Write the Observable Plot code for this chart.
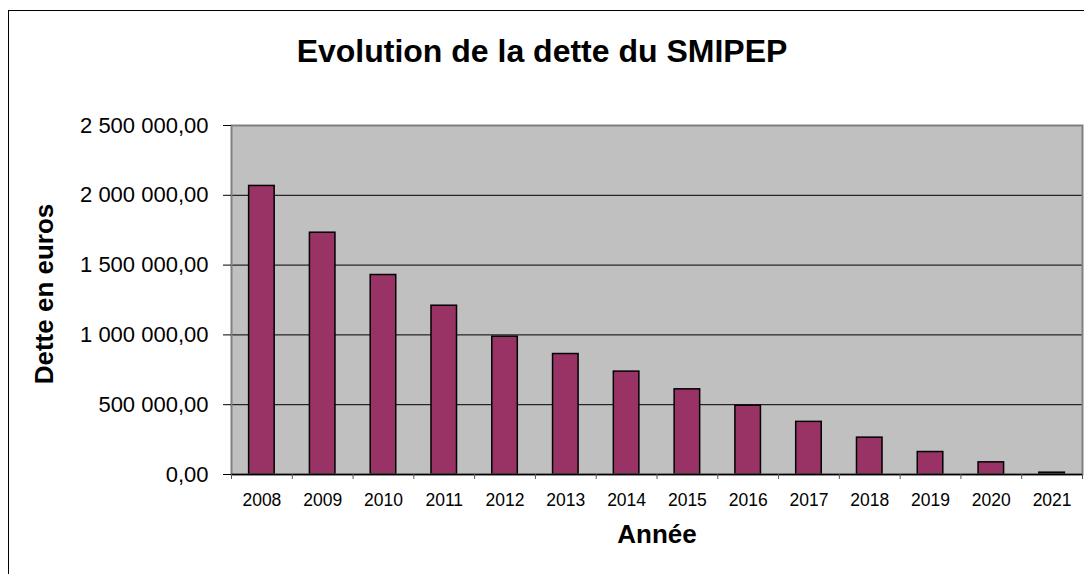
<!DOCTYPE html>
<html><head><meta charset="utf-8">
<script src="https://cdn.jsdelivr.net/npm/d3@7"></script>
<script src="https://cdn.jsdelivr.net/npm/@observablehq/plot@0.6"></script>
<style>
body{margin:0;background:#fff;font-family:"Liberation Sans",Arial,sans-serif;}
#wrap{position:relative;width:1084px;height:574px;overflow:hidden;}
#border{position:absolute;left:8px;top:10px;width:1090px;height:570px;border:1px solid #000;box-sizing:border-box;pointer-events:none;}
#title{position:absolute;left:0;top:35px;width:1084px;text-align:center;font-weight:bold;font-size:32px;line-height:32px;color:#000;}
#chart{position:absolute;left:0;top:0;}
</style></head>
<body><div id="wrap"><div id="chart"></div><div id="title"></div><div id="border"></div></div>
<script>
const title = "Evolution de la dette du SMIPEP";
const xLabel = "Année";
const yLabel = "Dette en euros";
const years = [2008, 2009, 2010, 2011, 2012, 2013, 2014, 2015, 2016, 2017, 2018, 2019, 2020, 2021];
const debt = [2067000, 1732000, 1429000, 1209000, 987000, 863000, 737000, 610000, 493000, 377000, 264000, 161000, 87000, 13000];
const yTicks = [0, 500000, 1000000, 1500000, 2000000, 2500000];

document.getElementById("title").textContent = title;
const data = years.map((year, i) => ({year, debt: debt[i]}));
const fr = d3.formatLocale({decimal: ",", thousands: "\u00a0", grouping: [3], currency: ["", " €"]});
const fmt = fr.format(",.2f");
const halfBar = 0.21;
const boundaries = years.map(y => y - 0.5).concat([years[years.length - 1] + 0.5]);
const font = "Liberation Sans, Arial, sans-serif";

const plot = Plot.plot({
  width: 1084, height: 574,
  marginLeft: 231, marginRight: 2, marginTop: 125, marginBottom: 100,
  style: {background: "transparent", fontFamily: font, overflow: "visible", color: "#000"},
  x: {type: "linear", domain: [years[0] - 0.5, years[years.length - 1] + 0.5]},
  y: {domain: [0, 2500000]},
  marks: [
    Plot.frame({fill: "#C0C0C0", stroke: null}),
    Plot.gridY({ticks: yTicks.slice(1, -1), stroke: "#000", strokeOpacity: 1}),
    Plot.rectY(data, {x1: d => d.year - halfBar, x2: d => d.year + halfBar, y: "debt", fill: "#993366", stroke: "#000", strokeWidth: 1.5}),
    Plot.frame({stroke: "#808080", strokeWidth: 2}),
    Plot.ruleY([0], {stroke: "#000", strokeWidth: 1.5}),
    Plot.axisY({ticks: yTicks, tickFormat: fmt, tickSize: 8, tickPadding: 15, fontSize: 22, label: null, stroke: "#000"}),
    Plot.axisX({ticks: boundaries, tickFormat: () => "", tickSize: 5, label: null, stroke: "#555"}),
    Plot.axisX({ticks: years, tickFormat: d => String(d), tickSize: 0, tickPadding: 19, fontSize: 17.5, label: null}),
    Plot.text([yLabel], {frameAnchor: "left", textAnchor: "middle", rotate: -90, dx: -186.5, dy: -6, fontSize: 26, fontWeight: "bold", fill: "#000"}),
    Plot.text([xLabel], {frameAnchor: "bottom", textAnchor: "middle", dy: 68, fontSize: 26, fontWeight: "bold", fill: "#000"})
  ]
});
document.getElementById("chart").appendChild(plot);
</script>
</body></html>
